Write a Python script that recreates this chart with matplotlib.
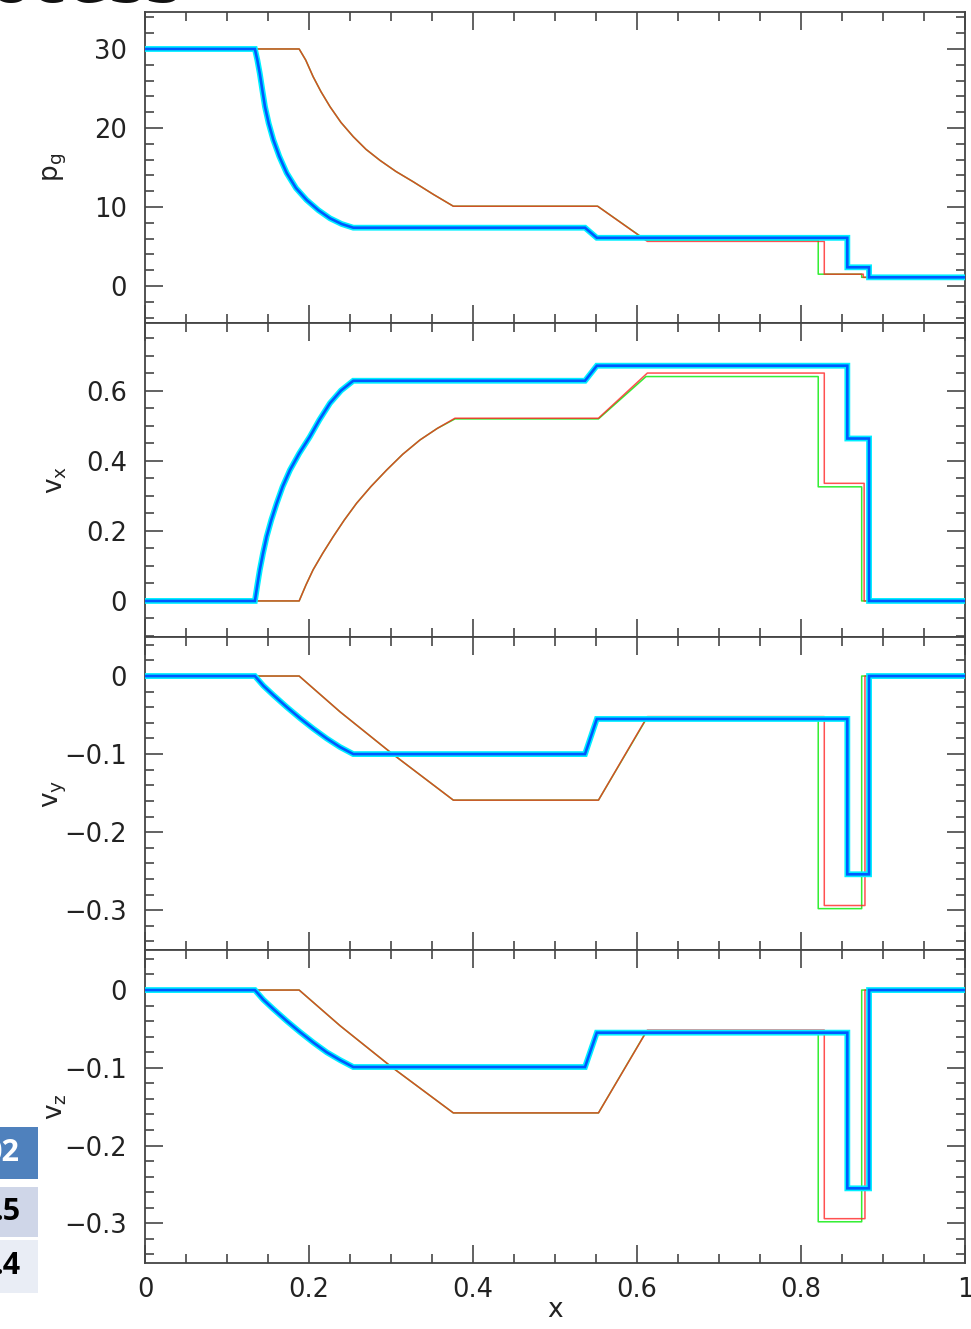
import matplotlib
matplotlib.use("Agg")
import matplotlib.pyplot as plt
from matplotlib.ticker import MultipleLocator, FuncFormatter
from matplotlib.patches import Rectangle

# ---------------- data ----------------
# Panel 1: gas pressure p_g
p_blue_x = [0, 0.134, 0.137, 0.140, 0.1431, 0.1463, 0.1508, 0.1565, 0.1638, 0.1728, 0.1841, 0.197, 0.2114,
            0.2256, 0.2398, 0.254, 0.5366, 0.551, 0.8565, 0.8565, 0.883, 0.883, 1.0]
p_blue_y = [30, 30, 28.6, 26.9, 24.8, 22.7, 20.6, 18.5, 16.4, 14.3, 12.4, 10.9, 9.6,
            8.57, 7.85, 7.38, 7.38, 6.1, 6.1, 2.37, 2.37, 1.1, 1.1]
p_red_x = [0, 0.188, 0.196, 0.205, 0.2146, 0.2256, 0.239, 0.254, 0.2695, 0.2866, 0.306, 0.327, 0.3516,
           0.376, 0.552, 0.6126, 0.8284, 0.8284, 0.876, 0.876, 1.0]
p_red_y = [30, 30, 28.6, 26.5, 24.6, 22.7, 20.7, 18.9, 17.3, 15.9, 14.5, 13.2, 11.6,
           10.1, 10.1, 5.65, 5.65, 1.5, 1.5, 1.1, 1.1]
p_green_x = [0, 0.188, 0.196, 0.205, 0.2146, 0.2256, 0.239, 0.254, 0.2695, 0.2866, 0.306, 0.327, 0.3516,
             0.376, 0.552, 0.611, 0.821, 0.821, 0.874, 0.874, 1.0]
p_green_y = [30, 30, 28.6, 26.5, 24.6, 22.7, 20.7, 18.9, 17.3, 15.9, 14.5, 13.2, 11.6,
             10.1, 10.1, 5.8, 5.8, 1.5, 1.5, 1.1, 1.1]

# Panel 2: v_x
vx_blue_x = [0, 0.134, 0.137, 0.140, 0.1439, 0.1484, 0.154, 0.1606, 0.1679, 0.1768, 0.1882, 0.201, 0.2126,
             0.2256, 0.239, 0.254, 0.5366, 0.551, 0.8565, 0.8565, 0.883, 0.883, 1.0]
vx_blue_y = [0, 0, 0.0457, 0.089, 0.136, 0.184, 0.231, 0.279, 0.327, 0.374, 0.422, 0.469, 0.517,
             0.565, 0.601, 0.629, 0.629, 0.672, 0.672, 0.464, 0.464, 0, 0]
vx_red_x = [0, 0.188, 0.1963, 0.205, 0.2167, 0.2296, 0.243, 0.258, 0.2756, 0.2947, 0.3143, 0.3354, 0.3565,
            0.378, 0.553, 0.6126, 0.8284, 0.8284, 0.877, 0.877, 1.0]
vx_red_y = [0, 0, 0.0457, 0.089, 0.136, 0.184, 0.231, 0.279, 0.327, 0.374, 0.419, 0.460, 0.493,
            0.522, 0.522, 0.651, 0.651, 0.336, 0.336, 0, 0]
vx_green_x = [0, 0.188, 0.1963, 0.205, 0.2167, 0.2296, 0.243, 0.258, 0.2756, 0.2947, 0.3143, 0.3354, 0.3565,
              0.378, 0.553, 0.611, 0.821, 0.821, 0.874, 0.874, 1.0]
vx_green_y = [0, 0, 0.0457, 0.089, 0.136, 0.184, 0.231, 0.279, 0.327, 0.374, 0.419, 0.460, 0.493,
              0.520, 0.520, 0.641, 0.641, 0.326, 0.326, 0, 0]

# Panel 3: v_y
vy_blue_x = [0, 0.134, 0.1443, 0.1565, 0.1728, 0.189, 0.2053, 0.2216, 0.2378, 0.254,
             0.5366, 0.551, 0.8565, 0.8565, 0.883, 0.883, 1.0]
vy_blue_y = [0, 0, -0.0124, -0.0244, -0.0397, -0.054, -0.0675, -0.080, -0.091, -0.100,
             -0.100, -0.055, -0.055, -0.254, -0.254, 0, 0]
vy_red_x = [0, 0.188, 0.2378, 0.3008, 0.376, 0.553, 0.6126, 0.8284, 0.8284, 0.878, 0.878, 1.0]
vy_red_y = [0, 0, -0.0458, -0.099, -0.159, -0.159, -0.052, -0.052, -0.294, -0.294, 0, 0]
vy_green_x = [0, 0.188, 0.2378, 0.3008, 0.376, 0.553, 0.611, 0.821, 0.821, 0.874, 0.874, 1.0]
vy_green_y = [0, 0, -0.0458, -0.099, -0.159, -0.159, -0.0556, -0.0556, -0.298, -0.298, 0, 0]

# Panel 4: v_z
vz_blue_x = [0, 0.134, 0.1443, 0.1565, 0.1728, 0.189, 0.2053, 0.2216, 0.2378, 0.254,
             0.5366, 0.551, 0.8565, 0.8565, 0.883, 0.883, 1.0]
vz_blue_y = [0, 0, -0.0124, -0.0244, -0.0397, -0.054, -0.0675, -0.080, -0.090, -0.099,
             -0.099, -0.0548, -0.0548, -0.255, -0.255, 0, 0]
vz_red_x = [0, 0.188, 0.2378, 0.3008, 0.376, 0.553, 0.6126, 0.8284, 0.8284, 0.878, 0.878, 1.0]
vz_red_y = [0, 0, -0.0458, -0.099, -0.158, -0.158, -0.0515, -0.0515, -0.294, -0.294, 0, 0]
vz_green_x = [0, 0.188, 0.2378, 0.3008, 0.376, 0.553, 0.611, 0.821, 0.821, 0.874, 0.874, 1.0]
vz_green_y = [0, 0, -0.0458, -0.099, -0.158, -0.158, -0.054, -0.054, -0.298, -0.298, 0, 0]

y_labels = [r"$\mathregular{p_g}$", r"$\mathregular{v_x}$", r"$\mathregular{v_y}$", r"$\mathregular{v_z}$"]
x_label = "x"

# ---------------- figure ----------------
W, H = 971, 1329
plt.rcParams["font.family"] = ["DejaVu Sans"]
plt.rcParams["mathtext.fontset"] = "dejavusans"
fig = plt.figure(figsize=(W / 100, H / 100), dpi=100)

left_px, right_px = 145, 965
edges = [12, 323, 637, 950, 1263]
ylims = [(-4.68, 34.68), (-0.103, 0.794), (-0.351, 0.050), (-0.351, 0.0515)]
majors = [10, 0.2, 0.1, 0.1]
minors = [2, 0.05, 0.02, 0.02]

panels = [
    (p_blue_x, p_blue_y, p_red_x, p_red_y, p_green_x, p_green_y),
    (vx_blue_x, vx_blue_y, vx_red_x, vx_red_y, vx_green_x, vx_green_y),
    (vy_blue_x, vy_blue_y, vy_red_x, vy_red_y, vy_green_x, vy_green_y),
    (vz_blue_x, vz_blue_y, vz_red_x, vz_red_y, vz_green_x, vz_green_y),
]

def fmt(v, pos):
    s = "%g" % round(v, 6)
    if s == "-0":
        s = "0"
    return s.replace("-", "\u2212")

tick_col = "#555555"
for i, (bx, by, rx, ry, gx, gy) in enumerate(panels):
    top, bot = edges[i], edges[i + 1]
    ax = fig.add_axes([left_px / W, 1 - bot / H, (right_px - left_px) / W, (bot - top) / H])
    ax.plot(gx, gy, color="#33ee33", lw=1.1, zorder=2)
    ax.plot(rx, ry, color="#ff2020", lw=1.1, alpha=0.78, zorder=3)
    ax.plot(bx, by, color="#00f0ff", lw=4.2, zorder=4, solid_joinstyle="miter")
    ax.plot(bx, by, color="#0058ff", lw=1.9, zorder=5, solid_joinstyle="miter")
    ax.set_xlim(0, 1)
    ax.set_ylim(*ylims[i])
    ax.xaxis.set_major_locator(MultipleLocator(0.2))
    ax.xaxis.set_minor_locator(MultipleLocator(0.05))
    ax.yaxis.set_major_locator(MultipleLocator(majors[i]))
    ax.yaxis.set_minor_locator(MultipleLocator(minors[i]))
    ax.yaxis.set_major_formatter(FuncFormatter(fmt))
    ax.xaxis.set_major_formatter(FuncFormatter(fmt))
    ax.tick_params(which="both", direction="in", top=True, right=True,
                   color=tick_col, width=1.3, labelcolor="#222222", labelsize=18.5)
    ax.tick_params(which="major", length=13)
    ax.tick_params(which="minor", length=6.5)
    ax.tick_params(axis="y", pad=13)
    ax.tick_params(axis="x", pad=10)
    for sp in ax.spines.values():
        sp.set_color("#444444")
        sp.set_linewidth(1.3)
    ax.set_ylabel(y_labels[i], fontsize=19, color="#222222")
    ax.yaxis.set_label_coords(-0.093, 0.5)
    if i < 3:
        ax.tick_params(axis="x", labelbottom=False)
    else:
        ax.set_xlabel(x_label, fontsize=19, color="#222222", labelpad=-4)

# --- slide artefacts around the chart (cut-off title and table cells) ---
fig.text(182 / W, 1 - 2 / H, "ocess", fontsize=44, fontweight="bold",
         ha="right", va="baseline", color="#111111")
cells = [(1127, 1179, "#4f81bd", "02", "white"),
         (1187, 1237, "#cfd6e8", ".5", "black"),
         (1240, 1293, "#e9edf5", ".4", "black")]
for y0, y1, col, txt, tcol in cells:
    fig.patches.append(Rectangle((0, 1 - y1 / H), 38 / W, (y1 - y0) / H,
                                 transform=fig.transFigure, facecolor=col,
                                 edgecolor="none", zorder=0))
    fig.text(20 / W, 1 - (y0 + y1) / 2 / H, txt, fontsize=22, fontweight="bold",
             ha="right", va="center", color=tcol, family=["Open Sans", "DejaVu Sans"])

fig.savefig("out.png", dpi=100)
